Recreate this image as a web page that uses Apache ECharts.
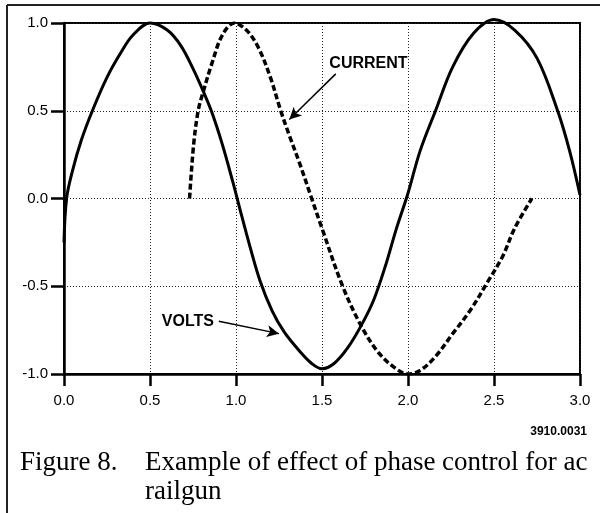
<!DOCTYPE html>
<html>
<head>
<meta charset="utf-8">
<script src="https://cdn.jsdelivr.net/npm/echarts@6/dist/echarts.min.js"></script>
<style>
html, body { margin: 0; padding: 0; background: #fff; }
#main { width: 600px; height: 513px; }
</style>
</head>
<body>
<div id="main"></div>
<script>
// values
var voltsX = [0, 0.015, 0.05, 0.1, 0.165, 0.25, 0.33, 0.4, 0.5, 0.6, 0.68, 0.75, 0.81, 0.86, 0.92, 0.98, 1.02, 1.08, 1.14, 1.21, 1.28, 1.37, 1.44, 1.5, 1.57, 1.65, 1.73, 1.8, 1.87, 1.93, 2.0, 2.07, 2.16, 2.26, 2.38, 2.5, 2.62, 2.75, 2.87, 2.94, 3.0];
var voltsY = [-0.25, 0, 0.16, 0.33, 0.5, 0.69, 0.83, 0.93, 1.0, 0.96, 0.87, 0.74, 0.61, 0.49, 0.31, 0.1, -0.05, -0.27, -0.47, -0.64, -0.76, -0.87, -0.94, -0.97, -0.94, -0.85, -0.72, -0.58, -0.38, -0.18, 0.03, 0.27, 0.5, 0.75, 0.94, 1.02, 0.96, 0.8, 0.5, 0.27, 0.02];

var currentX = [0.73, 0.753, 0.78, 0.81, 0.86, 0.92, 0.99, 1.06, 1.13, 1.2, 1.26, 1.31, 1.37, 1.44, 1.5, 1.62, 1.73, 1.83, 1.93, 2.0, 2.07, 2.16, 2.26, 2.36, 2.46, 2.55, 2.62, 2.72];
var currentY = [0.0, 0.30, 0.5, 0.61, 0.77, 0.93, 1.0, 0.96, 0.86, 0.69, 0.5, 0.36, 0.2, 0.0, -0.17, -0.5, -0.73, -0.88, -0.97, -1.0, -0.98, -0.9, -0.77, -0.64, -0.48, -0.33, -0.17, 0.0];

// axis ranges
var xMin = 0, xMax = 3, xStep = 0.5;
var yMin = -1, yMax = 1, yStep = 0.5;

function zip(xs, ys) {
    return xs.map(function (x, i) { return [x, ys[i]]; });
}

var chart = echarts.init(document.getElementById('main'));

var axisFont = { fontFamily: 'Liberation Sans', fontSize: 15, color: '#000' };
var dotted = { color: '#222', width: 1, type: [1, 2] };
var noteLabel = { show: true, position: 'inside', formatter: '{b}', fontFamily: 'Liberation Sans', fontWeight: 'bold', fontSize: 16, color: '#000' };

var option = {
    animation: false,
    backgroundColor: '#fff',
    grid: {
        left: 64, right: 20, top: 23, bottom: 139,
        containLabel: false,
        show: true,
        borderColor: '#000',
        borderWidth: 2
    },
    xAxis: {
        type: 'value',
        min: xMin, max: xMax, interval: xStep,
        axisLine: { show: true, onZero: false, lineStyle: { color: '#000', width: 2.5 } },
        axisTick: { show: true, length: 12, lineStyle: { color: '#000', width: 2.5 } },
        axisLabel: Object.assign({ margin: 19, formatter: function (v) { return v.toFixed(1); } }, axisFont),
        splitLine: { show: true, lineStyle: dotted }
    },
    yAxis: {
        type: 'value',
        min: yMin, max: yMax, interval: yStep,
        axisLine: { show: true, onZero: false, lineStyle: { color: '#000', width: 2.5 } },
        axisTick: { show: true, length: 13, lineStyle: { color: '#000', width: 2.5 } },
        axisLabel: Object.assign({ margin: 16, formatter: function (v) { return v.toFixed(1); } }, axisFont),
        splitLine: { show: true, lineStyle: dotted }
    },
    series: [
        {
            name: 'VOLTS',
            type: 'line',
            data: zip(voltsX, voltsY),
            showSymbol: false,
            smooth: 0.35,
            clip: false,
            lineStyle: { color: '#000', width: 3 },
            z: 3,
            markLine: {
                silent: true,
                symbol: ['none', 'arrow'],
                symbolSize: [9, 12],
                label: { show: false },
                lineStyle: { color: '#000', width: 1.5, type: 'solid' },
                data: [[{ coord: [0.90, -0.70] }, { coord: [1.25, -0.77] }]]
            },
            markPoint: {
                silent: true,
                symbol: 'circle',
                symbolSize: 1,
                itemStyle: { color: 'rgba(0,0,0,0)' },
                label: noteLabel,
                data: [{ name: 'VOLTS', coord: [0.72, -0.70] }]
            }
        },
        {
            name: 'CURRENT',
            type: 'line',
            data: zip(currentX, currentY),
            showSymbol: false,
            smooth: 0.35,
            lineStyle: { color: '#000', width: 3.5, type: [6, 3] },
            z: 4,
            markLine: {
                silent: true,
                symbol: ['none', 'arrow'],
                symbolSize: [9, 12],
                label: { show: false },
                lineStyle: { color: '#000', width: 1.5, type: 'solid' },
                data: [[{ coord: [1.58, 0.71] }, { coord: [1.31, 0.45] }]]
            },
            markPoint: {
                silent: true,
                symbol: 'circle',
                symbolSize: 1,
                itemStyle: { color: 'rgba(0,0,0,0)' },
                label: noteLabel,
                data: [{ name: 'CURRENT', coord: [1.77, 0.77] }]
            }
        }
    ],
    graphic: [
        // page frame (top and left edges)
        { type: 'line', shape: { x1: 7, y1: 5, x2: 600, y2: 5 }, style: { stroke: '#222', lineWidth: 2 } },
        { type: 'line', shape: { x1: 7, y1: 5, x2: 7, y2: 513 }, style: { stroke: '#222', lineWidth: 2 } },
        { type: 'text', style: { text: '3910.0031', x: 587, y: 432, textAlign: 'right', textVerticalAlign: 'middle', font: 'bold 12px "Liberation Sans"', fill: '#000' } },
        { type: 'text', style: { text: 'Figure 8.', x: 20, y: 463, textAlign: 'left', textVerticalAlign: 'middle', font: '27px "Liberation Serif"', fill: '#000' } },
        { type: 'text', style: { text: 'Example of effect of phase control for ac', x: 145, y: 463, textAlign: 'left', textVerticalAlign: 'middle', font: '27px "Liberation Serif"', fill: '#000' } },
        { type: 'text', style: { text: 'railgun', x: 145, y: 492, textAlign: 'left', textVerticalAlign: 'middle', font: '27px "Liberation Serif"', fill: '#000' } }
    ]
};

chart.setOption(option);
</script>
</body>
</html>
